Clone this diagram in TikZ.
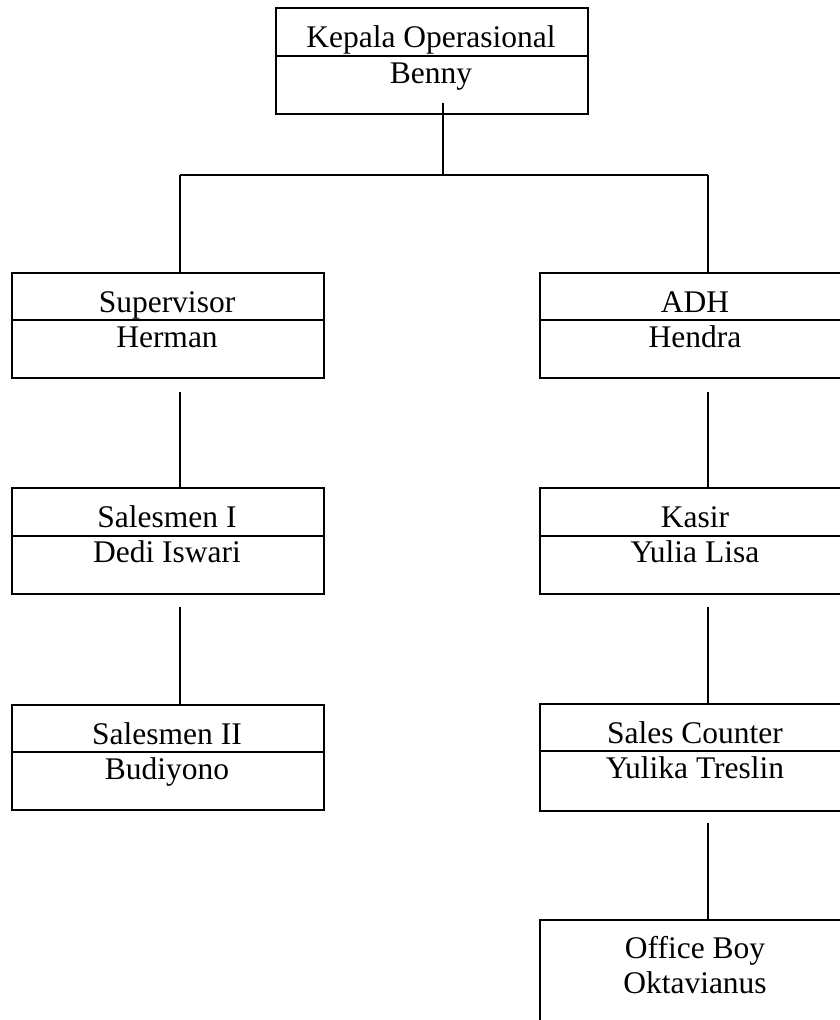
\documentclass[tikz,border=0pt]{standalone}
\usepackage{fontspec}
\setmainfont{Liberation Serif}
\begin{document}
\begin{tikzpicture}[x=1pt,y=-1pt,
  unit/.style={draw,line width=1.6pt,rectangle,minimum width=312pt,minimum height=106pt,anchor=north west,inner sep=0pt},
  sep/.style={line width=1.6pt},
  lbl/.style={anchor=base,inner sep=0pt,font=\fontsize{31.5}{37}\selectfont},
  link/.style={line width=1.2pt}]
\clip (0,0) rectangle (840,1020);
\fill[white] (0,0) rectangle (840,1020);
% boxes
\node[unit] (top) at (275,7) {};
\node[unit,minimum height=105pt] (sup) at (11,272) {};
\node[unit,minimum height=105pt] (adh) at (539,272) {};
\node[unit] (sal1) at (11,487) {};
\node[unit] (kas) at (539,487) {};
\node[unit,minimum height=105pt] (sal2) at (11,704) {};
\node[unit,minimum height=107pt] (sc) at (539,703) {};
\node[unit,minimum height=130pt] (ob) at (539,919) {};
% dividers
\draw[sep] (top.west |- 0,56) -- (top.east |- 0,56);
\draw[sep] (sup.west |- 0,320) -- (sup.east |- 0,320);
\draw[sep] (adh.west |- 0,320) -- (adh.east |- 0,320);
\draw[sep] (sal1.west |- 0,536) -- (sal1.east |- 0,536);
\draw[sep] (kas.west |- 0,536) -- (kas.east |- 0,536);
\draw[sep] (sal2.west |- 0,752) -- (sal2.east |- 0,752);
\draw[sep] (sc.west |- 0,751) -- (sc.east |- 0,751);
% texts
\node[lbl] (t1) at (431,47) {Kepala Operasional};
\node[lbl] (t2) at (431,83) {Benny};
\node[lbl] (t3) at (167,312) {Supervisor};
\node[lbl] (t4) at (167,347) {Herman};
\node[lbl] (t5) at (695,312) {ADH};
\node[lbl] (t6) at (695,347) {Hendra};
\node[lbl] (t7) at (167,527) {Salesmen I};
\node[lbl] (t8) at (167,562) {Dedi Iswari};
\node[lbl] (t9) at (695,527) {Kasir};
\node[lbl] (t10) at (695,562) {Yulia Lisa};
\node[lbl] (t11) at (167,744) {Salesmen II};
\node[lbl] (t12) at (167,779) {Budiyono};
\node[lbl] (t13) at (695,743) {Sales Counter};
\node[lbl] (t14) at (695,778) {Yulika Treslin};
\node[lbl] (t15) at (695,958) {Office Boy};
\node[lbl] (t16) at (695,993) {Oktavianus};
% connector points
\coordinate (c0) at (443,103);
\coordinate (c1) at (443,175);
\coordinate (cl) at (180,175);
\coordinate (cr) at (708,175);
\coordinate (s1) at (180,392);
\coordinate (a1) at (708,392);
\coordinate (s2) at (180,607);
\coordinate (k2) at (708,607);
\coordinate (o1) at (708,823);
% connectors
\draw[link] (c0) -- (c1);
\draw[link] (cl) -- (cr);
\draw[link] (cl) -- (cl |- sup.north);
\draw[link] (cr) -- (cr |- adh.north);
\draw[link] (s1) -- (s1 |- sal1.north);
\draw[link] (a1) -- (a1 |- kas.north);
\draw[link] (s2) -- (s2 |- sal2.north);
\draw[link] (k2) -- (k2 |- sc.north);
\draw[link] (o1) -- (o1 |- ob.north);
\end{tikzpicture}
\end{document}
